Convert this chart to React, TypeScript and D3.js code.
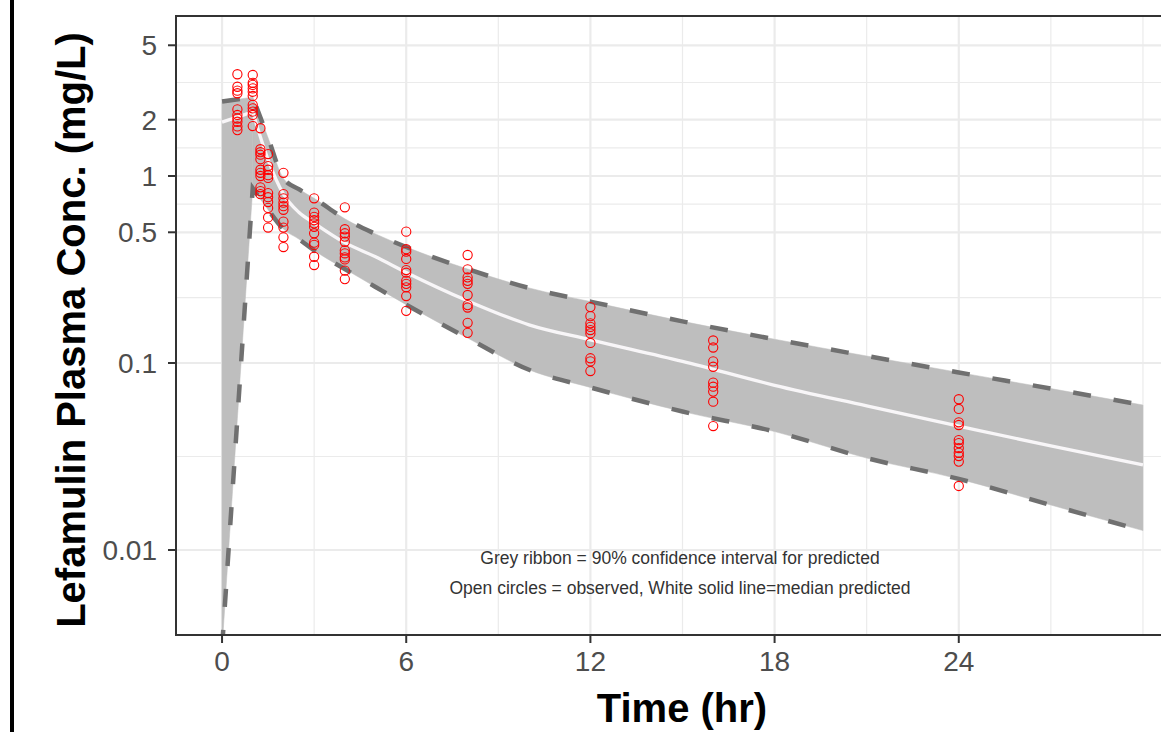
import React from "react";
import * as d3 from "d3";

// ---- Predicted (ribbon) data ----
const predTimes = [0, 1, 1.5, 2, 2.5, 3, 4, 5, 6, 8, 10, 12, 15, 18, 21, 24, 27, 30];
const upper90 = [2.5, 2.64, 1.6, 0.97, 0.85, 0.76, 0.59, 0.49, 0.417, 0.318, 0.252, 0.213, 0.167, 0.134, 0.109, 0.089, 0.073, 0.0596];
const median = [1.94, 2.2, 1.22, 0.8, 0.64, 0.56, 0.44, 0.37, 0.305, 0.215, 0.16, 0.133, 0.102, 0.076, 0.059, 0.046, 0.036, 0.0285];
const lower90 = [0.003, 0.86, 0.66, 0.52, 0.46, 0.4, 0.318, 0.255, 0.205, 0.136, 0.092, 0.074, 0.055, 0.043, 0.031, 0.024, 0.0174, 0.0127];

// ---- Observed data ----
const obsTimes = [0.5, 1, 1.25, 1.5, 2, 3, 4, 6, 8, 12, 16, 24];
const obsConc = [
  [3.5, 3.0, 2.86, 2.77, 2.27, 2.12, 2.03, 1.95, 1.84, 1.76],
  [3.47, 3.15, 3.07, 2.94, 2.82, 2.68, 2.4, 2.3, 2.21, 2.12, 1.85],
  [1.8, 1.39, 1.34, 1.3, 1.23, 1.08, 1.04, 1.0, 0.87, 0.83, 0.8],
  [1.31, 1.13, 1.08, 1.01, 0.976, 0.81, 0.77, 0.726, 0.675, 0.6, 0.53],
  [1.04, 0.8, 0.76, 0.72, 0.69, 0.66, 0.57, 0.53, 0.47, 0.417],
  [0.76, 0.637, 0.605, 0.58, 0.558, 0.535, 0.494, 0.44, 0.428, 0.37, 0.334],
  [0.68, 0.519, 0.494, 0.474, 0.445, 0.4, 0.386, 0.367, 0.358, 0.312, 0.281],
  [0.504, 0.406, 0.394, 0.36, 0.314, 0.304, 0.275, 0.265, 0.254, 0.228, 0.19],
  [0.378, 0.317, 0.287, 0.275, 0.265, 0.231, 0.204, 0.198, 0.164, 0.145],
  [0.199, 0.178, 0.163, 0.156, 0.15, 0.144, 0.128, 0.106, 0.102, 0.0906],
  [0.132, 0.121, 0.102, 0.0955, 0.0785, 0.0747, 0.0703, 0.0621, 0.046],
  [0.064, 0.0568, 0.0482, 0.0466, 0.0387, 0.0373, 0.0351, 0.0331, 0.0318, 0.0297, 0.022],
];

// ---- Axis ticks ----
const xTicks = [0, 6, 12, 18, 24];
const xMinorGrid = [3, 9, 15, 21, 27, 30];
const yTicks = [0.01, 0.1, 0.5, 1, 2, 5];
const yTickLabels = ["0.01", "0.1", "0.5", "1", "2", "5"];
const yMinorGrid = [0.0316228, 0.2236068, 0.7071068, 1.4142136, 3.1622777];

const xTitle = "Time (hr)";
const yTitle = "Lefamulin Plasma Conc. (mg/L)";
const note1 = "Grey ribbon = 90% confidence interval for predicted";
const note2 = "Open circles = observed, White solid line=median predicted";

const W = 1161;
const H = 732;
const panel = { left: 176, top: 16, right: 1189, bottom: 635 };
const FONT = "'Liberation Sans', Arial, Helvetica, sans-serif";

type P = { t: number; u: number; m: number; l: number };

export default function App() {
  const x = d3.scaleLinear().domain([-1.5, 31.5]).range([panel.left, panel.right]);
  const y = d3.scaleLog().domain([0.003512, 7.17]).range([panel.bottom, panel.top]);

  const pred: P[] = predTimes.map((t, i) => ({ t, u: upper90[i], m: median[i], l: lower90[i] }));
  const head = pred.slice(0, 2); // absorption phase: straight segment
  const tail = pred.slice(1); // elimination phase: smooth curve

  const areaLin = d3.area<P>().x((d) => x(d.t)).y0((d) => y(d.l)).y1((d) => y(d.u));
  const areaSm = d3
    .area<P>()
    .curve(d3.curveMonotoneX)
    .x((d) => x(d.t))
    .y0((d) => y(d.l))
    .y1((d) => y(d.u));

  const joined = (acc: (d: P) => number) => {
    const lin = d3.line<P>().x((d) => x(d.t)).y((d) => y(acc(d)));
    const sm = d3.line<P>().curve(d3.curveMonotoneX).x((d) => x(d.t)).y((d) => y(acc(d)));
    const a = lin(head) || "";
    const b = (sm(tail) || "").replace(/^M[^CLZ]*/, "");
    return a + b;
  };

  const points: { t: number; c: number }[] = [];
  obsTimes.forEach((t, i) => obsConc[i].forEach((c) => points.push({ t, c })));

  const cx = 680;

  return (
    <svg
      width={W}
      height={H}
      style={{ position: "absolute", left: 0, top: 0, background: "#fff" }}
      fontFamily={FONT}
    >
      <defs>
        <clipPath id="panelClip">
          <rect x={panel.left} y={panel.top} width={panel.right - panel.left} height={panel.bottom - panel.top} />
        </clipPath>
      </defs>
      <rect x={0} y={0} width={W} height={H} fill="#fff" />
      {/* left frame line */}
      <rect x={10} y={0} width={4} height={H} fill="#000" />

      <g clipPath="url(#panelClip)">
        <rect x={panel.left} y={panel.top} width={panel.right - panel.left} height={panel.bottom - panel.top} fill="#fff" />
        {/* minor grid */}
        {xMinorGrid.map((t) => (
          <line key={"xm" + t} x1={x(t)} x2={x(t)} y1={panel.top} y2={panel.bottom} stroke="#EBEBEB" strokeWidth={1.2} />
        ))}
        {yMinorGrid.map((v) => (
          <line key={"ym" + v} x1={panel.left} x2={panel.right} y1={y(v)} y2={y(v)} stroke="#EBEBEB" strokeWidth={1.2} />
        ))}
        {/* major grid */}
        {xTicks.map((t) => (
          <line key={"xg" + t} x1={x(t)} x2={x(t)} y1={panel.top} y2={panel.bottom} stroke="#EBEBEB" strokeWidth={2.2} />
        ))}
        {yTicks.map((v) => (
          <line key={"yg" + v} x1={panel.left} x2={panel.right} y1={y(v)} y2={y(v)} stroke="#EBEBEB" strokeWidth={2.2} />
        ))}

        {/* ribbon */}
        <path d={areaLin(head) || ""} fill="#BEBEBE" stroke="#BEBEBE" strokeWidth={0.5} />
        <path d={areaSm(tail) || ""} fill="#BEBEBE" stroke="#BEBEBE" strokeWidth={0.5} />
        <path d={joined((d) => d.u)} fill="none" stroke="#707070" strokeWidth={4.5} strokeDasharray="18 23" />
        <path d={joined((d) => d.l)} fill="none" stroke="#707070" strokeWidth={4.5} strokeDasharray="18 23" />
        <path d={joined((d) => d.m)} fill="none" stroke="#F8F6F8" strokeWidth={3.3} />

        {/* observed points */}
        {points.map((p, i) => (
          <circle key={i} cx={x(p.t)} cy={y(p.c)} r={4.6} fill="none" stroke="#FF0000" strokeWidth={1.1} />
        ))}

        {/* annotations */}
        <text x={cx} y={564} textAnchor="middle" fontSize={17.5} fill="#333">
          {note1}
        </text>
        <text x={cx} y={594} textAnchor="middle" fontSize={17.5} fill="#333">
          {note2}
        </text>
      </g>

      {/* panel border */}
      <rect
        x={panel.left}
        y={panel.top}
        width={panel.right - panel.left}
        height={panel.bottom - panel.top}
        fill="none"
        stroke="#333"
        strokeWidth={2}
      />

      {/* y axis ticks + labels */}
      {yTicks.map((v, i) => (
        <g key={"yt" + v}>
          <line x1={panel.left - 8} x2={panel.left} y1={y(v)} y2={y(v)} stroke="#333" strokeWidth={2} />
          <text x={panel.left - 19} y={y(v) + 10} textAnchor="end" fontSize={28} fill="#4D4D4D">
            {yTickLabels[i]}
          </text>
        </g>
      ))}

      {/* x axis ticks + labels */}
      {xTicks.map((t) => (
        <g key={"xt" + t}>
          <line x1={x(t)} x2={x(t)} y1={panel.bottom} y2={panel.bottom + 8} stroke="#333" strokeWidth={2} />
          <text x={x(t)} y={671} textAnchor="middle" fontSize={28} fill="#4D4D4D">
            {t}
          </text>
        </g>
      ))}

      {/* titles */}
      <text x={682} y={722} textAnchor="middle" fontSize={40} fontWeight="bold" fill="#000">
        {xTitle}
      </text>
      <text
        transform={`translate(85, 330) rotate(-90)`}
        textAnchor="middle"
        fontSize={40}
        fontWeight="bold"
        fill="#000"
      >
        {yTitle}
      </text>
    </svg>
  );
}
